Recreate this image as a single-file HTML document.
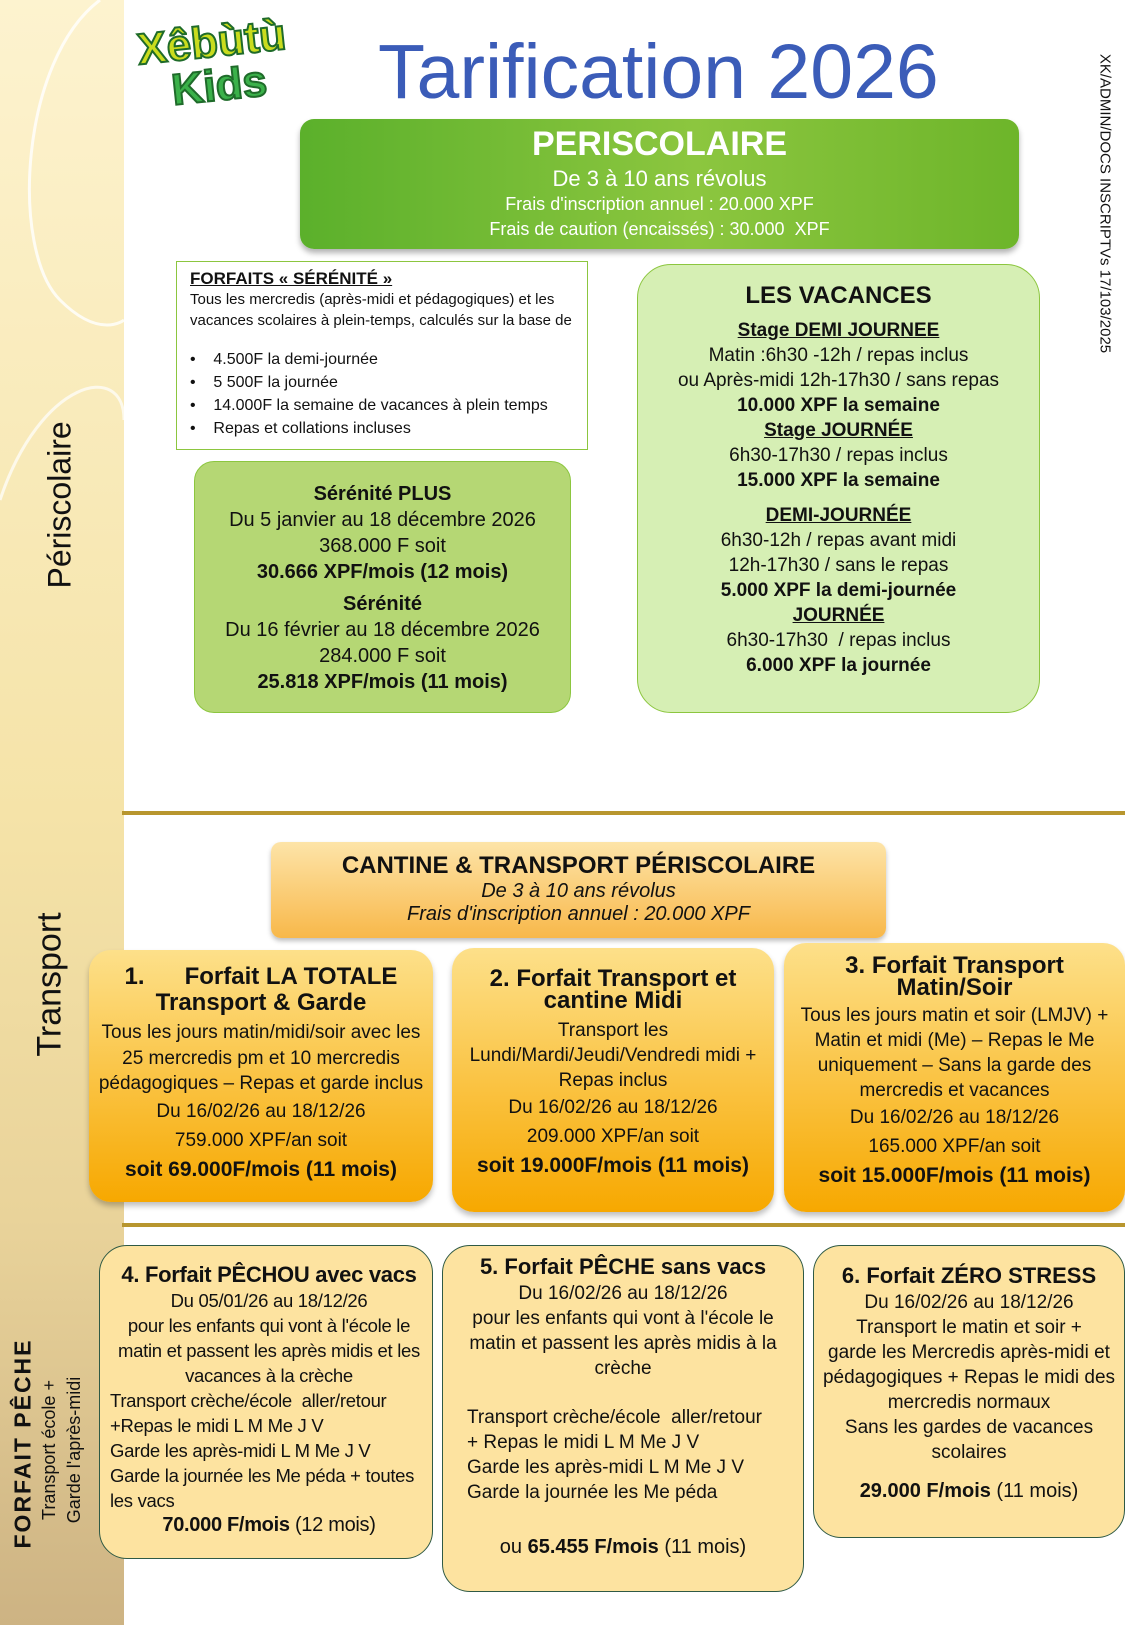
<!DOCTYPE html>
<html><head><meta charset="utf-8"><style>
*{margin:0;padding:0;box-sizing:border-box}
body{width:1125px;height:1625px;position:relative;overflow:hidden;background:#fff;font-family:"Liberation Sans Narrow","Liberation Sans",sans-serif;color:#111}
.a{position:absolute}
.c{text-align:center}
.side{left:0;top:0;width:124px;height:1625px;background:linear-gradient(#fdf3cf 0%,#f5e3a8 50%,#e9d39a 75%,#cdb383 100%)}
.rot{transform:rotate(-90deg);transform-origin:center;white-space:nowrap}
.box{border-radius:22px}
.or{background:linear-gradient(#fde08a,#f7a800);box-shadow:0 4px 6px rgba(0,0,0,.25)}
.pe{background:#fde3a0;border:1.5px solid #2f5a45;border-radius:28px}
b{font-weight:bold}
u{text-decoration:underline}
</style></head><body>
<div class="a side"></div>
<svg class="a" style="left:0;top:0" width="124" height="620"><path d="M100 0 C20 60 10 250 60 300 C100 340 124 320 124 320" fill="none" stroke="#fff" stroke-width="3" opacity=".8"/><path d="M0 500 C40 380 124 360 124 420" fill="none" stroke="#fff" stroke-width="3" opacity=".7"/></svg>
<div class="a rot" style="left:-20px;top:490px;width:160px;font-family:'Liberation Sans',sans-serif;font-size:32px;text-align:center">Périscolaire</div>
<div class="a rot" style="left:-25px;top:965px;width:150px;font-family:'Liberation Sans',sans-serif;font-size:34px;text-align:center">Transport</div>
<div class="a rot" style="left:-77px;top:1435px;width:200px;font-family:'Liberation Sans',sans-serif;font-size:23px;font-weight:bold;text-align:center;letter-spacing:2px">FORFAIT PÊCHE</div>
<div class="a rot" style="left:-18px;top:1425px;width:160px;font-family:'Liberation Sans',sans-serif;font-size:18px;line-height:25px;text-align:center">Transport école +<br>Garde l'après-midi</div>

<div class="a" style="left:140px;top:20px;width:160px;height:100px;font-family:'Liberation Sans',sans-serif;font-weight:bold;font-size:44px;line-height:44px;color:#c9dc1e;-webkit-text-stroke:2px #1f6b2a;transform:rotate(-6deg)">Xêbùtù<br><span style="color:#3bb14a;padding-left:30px">Kids</span></div>
<div class="a" style="left:378px;top:28px;font-family:'Liberation Sans',sans-serif;font-size:77px;color:#3b5cb8;white-space:nowrap">Tarification 2026</div>
<div class="a" style="right:10px;top:25px;width:20px;height:360px"><div class="a" style="left:-170px;top:170px;width:360px;transform:rotate(90deg);font-family:'Liberation Sans',sans-serif;font-size:15px;white-space:nowrap;text-align:center">XK/ADMIN/DOCS INSCRIPTVs 17/103/2025</div></div>

<div class="a box c" style="left:300px;top:119px;width:719px;height:130px;border-radius:14px;background:linear-gradient(90deg,#5bb02b,#8cc63f 55%,#6db52a);box-shadow:0 4px 6px rgba(0,0,0,.3);color:#fff">
<div style="font-family:'Liberation Sans',sans-serif;font-weight:bold;font-size:34px;margin-top:6px">PERISCOLAIRE</div>
<div style="font-size:22px;margin-top:2px">De 3 à 10 ans révolus</div>
<div style="font-size:18px;line-height:25px">Frais d'inscription annuel : 20.000 XPF<br>Frais de caution (encaissés) : 30.000&nbsp; XPF</div></div>

<div class="a" style="left:176px;top:261px;width:412px;height:189px;border:1.5px solid #8cc63f;padding:6px 13px;font-size:15px;line-height:21px">
<div style="font-weight:bold;font-size:17px"><u>FORFAITS « SÉRÉNITÉ »</u></div>
Tous les mercredis (après-midi et pédagogiques) et les vacances scolaires à plein-temps, calculés sur la base de
<div style="margin-top:17px;line-height:23px;font-size:16px">•&nbsp;&nbsp;&nbsp;&nbsp;4.500F la demi-journée<br>•&nbsp;&nbsp;&nbsp;&nbsp;5 500F la journée<br>•&nbsp;&nbsp;&nbsp;&nbsp;14.000F la semaine de vacances à plein temps<br>•&nbsp;&nbsp;&nbsp;&nbsp;Repas et collations incluses</div></div>

<div class="a box c" style="left:194px;top:461px;width:377px;height:252px;background:#b5d774;border:1.5px solid #8cc63f;border-radius:20px;font-size:20px;line-height:26px;padding-top:19px">
<b>Sérénité PLUS</b><br>Du 5 janvier au 18 décembre 2026<br>368.000 F soit<br><b>30.666 XPF/mois (12 mois)</b>
<div style="margin-top:6px"><b>Sérénité</b><br>Du 16 février au 18 décembre 2026<br>284.000 F soit<br><b>25.818 XPF/mois (11 mois)</b></div></div>

<div class="a box c" style="left:637px;top:264px;width:403px;height:449px;background:#d6efb4;border:1.5px solid #8cc63f;border-radius:34px;font-size:19px;line-height:25px;padding-top:18px">
<div style="font-weight:bold;font-size:24px;margin-bottom:10px">LES VACANCES</div>
<b><u>Stage DEMI JOURNEE</u></b><br>Matin :6h30 -12h / repas inclus<br>ou Après-midi 12h-17h30 / sans repas<br><b>10.000 XPF la semaine</b><br>
<b><u>Stage JOURNÉE</u></b><br>6h30-17h30 / repas inclus<br><b>15.000 XPF la semaine</b>
<div style="margin-top:10px"><b><u>DEMI-JOURNÉE</u></b><br>6h30-12h / repas avant midi<br>12h-17h30 / sans le repas<br><b>5.000 XPF la demi-journée</b><br><b><u>JOURNÉE</u></b><br>6h30-17h30&nbsp; / repas inclus<br><b>6.000 XPF la journée</b></div></div>

<div class="a" style="left:122px;top:811px;width:1003px;height:4px;background:#b8962e"></div>

<div class="a c" style="left:271px;top:842px;width:615px;height:96px;border-radius:10px;background:linear-gradient(#fde4a8,#f8b84a);box-shadow:0 3px 5px rgba(0,0,0,.25);font-size:20px;line-height:23px;font-style:italic;padding-top:10px">
<div style="font-family:'Liberation Sans',sans-serif;font-style:normal;font-weight:bold;font-size:24px;line-height:28px">CANTINE &amp; TRANSPORT PÉRISCOLAIRE</div>De 3 à 10 ans révolus<br>Frais d'inscription annuel : 20.000 XPF</div>

<div class="a box or c" style="left:89px;top:950px;width:344px;height:252px;font-size:19px;line-height:25.5px;padding-top:14px">
<div style="font-weight:bold;font-size:24px;line-height:26px">1.&nbsp;&nbsp;&nbsp;&nbsp;&nbsp; Forfait LA TOTALE<br>Transport &amp; Garde</div>
<div style="margin-top:4px">Tous les jours matin/midi/soir avec les 25 mercredis pm et 10 mercredis pédagogiques – Repas et garde inclus</div>
<div style="line-height:29px">Du 16/02/26 au 18/12/26<br>759.000 XPF/an soit<br><b style="font-size:21px">soit 69.000F/mois (11 mois)</b></div></div>

<div class="a box or c" style="left:452px;top:948px;width:322px;height:264px;font-size:19px;line-height:25px;padding-top:20px">
<div style="font-weight:bold;font-size:24px;line-height:22px">2. Forfait Transport et<br>cantine Midi</div>
<div style="margin-top:6px">Transport les<br>Lundi/Mardi/Jeudi/Vendredi midi +<br>Repas inclus</div>
<div style="line-height:29px">Du 16/02/26 au 18/12/26<br>209.000 XPF/an soit<br><b style="font-size:21px">soit 19.000F/mois (11 mois)</b></div></div>

<div class="a box or c" style="left:784px;top:943px;width:341px;height:269px;font-size:19px;line-height:25px;padding-top:12px">
<div style="font-weight:bold;font-size:24px;line-height:22px">3. Forfait Transport<br>Matin/Soir</div>
<div style="margin-top:4px">Tous les jours matin et soir (LMJV) + Matin et midi (Me) – Repas le Me uniquement – Sans la garde des mercredis et vacances</div>
<div style="line-height:29px">Du 16/02/26 au 18/12/26<br>165.000 XPF/an soit<br><b style="font-size:21px">soit 15.000F/mois (11 mois)</b></div></div>

<div class="a" style="left:122px;top:1223px;width:1003px;height:4px;background:#b8962e"></div>

<div class="a pe" style="left:99px;top:1245px;width:334px;height:314px;font-size:18.5px;line-height:25px;padding:16px 4px 0 10px;letter-spacing:-0.3px">
<div class="c"><b style="font-size:22px">4. Forfait PÊCHOU avec vacs</b><br>Du 05/01/26 au 18/12/26<br>pour les enfants qui vont à l'école le<br>matin et passent les après midis et les<br>vacances à la crèche</div>
Transport crèche/école&nbsp; aller/retour<br>+Repas le midi L M Me J V<br>Garde les après-midi L M Me J V<br>Garde la journée les Me péda + toutes<br>les vacs
<div class="c" style="font-size:20px"><b>70.000 F/mois</b> (12 mois)</div></div>

<div class="a pe" style="left:442px;top:1245px;width:362px;height:347px;font-size:19px;line-height:25px;padding:8px 10px 0 24px">
<div class="c" style="margin-left:-14px"><b style="font-size:22px">5. Forfait PÊCHE sans vacs</b><br>Du 16/02/26 au 18/12/26<br>pour les enfants qui vont à l'école le matin et passent les après midis à la crèche</div>
<div style="margin-top:24px">Transport crèche/école&nbsp; aller/retour<br>+ Repas le midi L M Me J V<br>Garde les après-midi L M Me J V<br>Garde la journée les Me péda</div>
<div class="c" style="margin-top:30px;font-size:20px;margin-left:-14px">ou <b>65.455 F/mois</b> (11 mois)</div></div>

<div class="a pe c" style="left:813px;top:1245px;width:312px;height:293px;font-size:19px;line-height:25px;padding-top:17px">
<b style="font-size:22px">6. Forfait ZÉRO STRESS</b><br>Du 16/02/26 au 18/12/26<br>Transport le matin et soir +<br>garde les Mercredis après-midi et pédagogiques + Repas le midi des mercredis normaux<br>Sans les gardes de vacances scolaires
<div style="margin-top:14px;font-size:20px"><b>29.000 F/mois</b> (11 mois)</div></div>
</body></html>
